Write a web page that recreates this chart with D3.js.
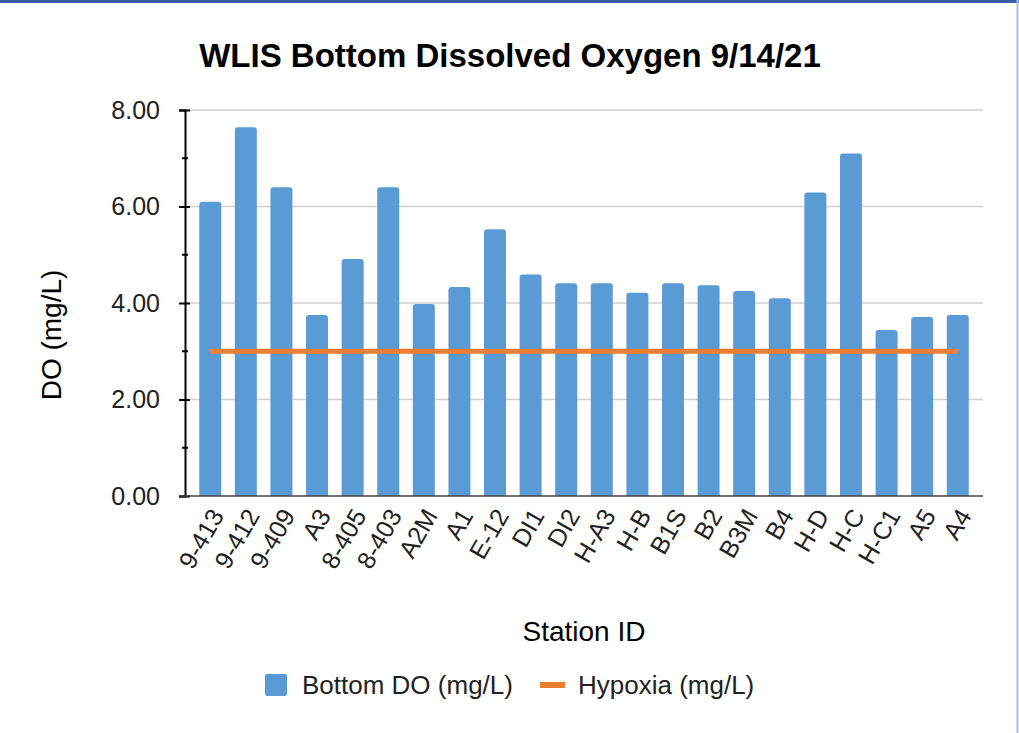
<!DOCTYPE html>
<html>
<head>
<meta charset="utf-8">
<script src="https://cdn.jsdelivr.net/npm/d3@7"></script>
<style>
  html, body { margin: 0; padding: 0; background: #fff; }
  svg { display: block; font-family: "Liberation Sans", Arial, sans-serif; }
</style>
</head>
<body>
<div id="chart"></div>
<script>
// chart data
const stations = ['9-413', '9-412', '9-409', 'A3', '8-405', '8-403', 'A2M', 'A1', 'E-12', 'DI1', 'DI2',
  'H-A3', 'H-B', 'B1S', 'B2', 'B3M', 'B4', 'H-D', 'H-C', 'H-C1', 'A5', 'A4']
const bottomDO = [6.10, 7.64, 6.40, 3.75, 4.91, 6.40, 3.98, 4.33, 5.53, 4.59, 4.41,
  4.41, 4.21, 4.41, 4.37, 4.25, 4.10, 6.29, 7.10, 3.44, 3.71, 3.75]
const hypoxia = stations.map(() => 3.0)
const yTicks = [0, 2, 4, 6, 8]
const yMinorTicks = [1, 3, 5, 7]

const width = 1019
const height = 733
const plot = { left: 185, right: 983, top: 110, bottom: 496 }

const svg = d3.select('#chart')
  .append('svg')
  .attr('width', width)
  .attr('height', height)

// frame edges (top and right, as in the screenshot)
svg.append('line')
  .attr('x1', 0).attr('x2', width)
  .attr('y1', 1.5).attr('y2', 1.5)
  .attr('stroke', '#3b5ea6').attr('stroke-width', 3)
svg.append('line')
  .attr('x1', 1017.5).attr('x2', 1017.5)
  .attr('y1', 0).attr('y2', height)
  .attr('stroke', '#a8bfe3').attr('stroke-width', 2)

const x = d3.scaleBand()
  .domain(stations)
  .range([plot.left, plot.right])
  .paddingInner(0.382)
  .paddingOuter(0.4)

const y = d3.scaleLinear()
  .domain([0, 8])
  .range([plot.bottom, plot.top])

// gridlines
svg.append('g')
  .selectAll('line')
  .data(yTicks.slice(1))
  .join('line')
  .attr('x1', plot.left).attr('x2', plot.right)
  .attr('y1', d => y(d)).attr('y2', d => y(d))
  .attr('stroke', '#d0d0d0')
  .attr('stroke-width', 1.5)

// bars with rounded tops
const r = 3
svg.append('g')
  .selectAll('path')
  .data(stations)
  .join('path')
  .attr('fill', '#5b9bd5')
  .attr('d', (d, i) => {
    const x0 = x(d), w = x.bandwidth(), y0 = y(bottomDO[i]), yb = y(0)
    return `M${x0},${yb}V${y0 + r}Q${x0},${y0} ${x0 + r},${y0}H${x0 + w - r}Q${x0 + w},${y0} ${x0 + w},${y0 + r}V${yb}Z`
  })

// hypoxia line
const line = d3.line()
  .x((d, i) => x(stations[i]) + x.bandwidth() / 2)
  .y(d => y(d))
svg.append('path')
  .datum(hypoxia)
  .attr('d', line)
  .attr('fill', 'none')
  .attr('stroke', '#ed7d31')
  .attr('stroke-width', 5)

// y axis
const yAxis = svg.append('g')
  .attr('transform', `translate(${plot.left},0)`)
  .call(d3.axisLeft(y).tickValues(yTicks).tickFormat(d3.format('.2f')).tickSize(6).tickPadding(19))
yAxis.select('.domain').attr('stroke', '#000').attr('stroke-width', 2)
yAxis.selectAll('.tick line').attr('stroke', '#000').attr('stroke-width', 2).attr('x2', 5).attr('x1', -6)
yAxis.selectAll('.tick text')
  .attr('font-size', 25)
  .attr('fill', '#222')
  .attr('font-family', '"Liberation Sans", Arial, sans-serif')
yAxis.selectAll('.minor')
  .data(yMinorTicks)
  .join('line')
  .attr('class', 'minor')
  .attr('x1', -3).attr('x2', 3)
  .attr('y1', d => y(d)).attr('y2', d => y(d))
  .attr('stroke', '#000').attr('stroke-width', 2)

// x axis
const xAxis = svg.append('g')
  .attr('transform', `translate(0,${plot.bottom})`)
  .call(d3.axisBottom(x).tickSize(0).tickPadding(0))
xAxis.select('.domain')
  .attr('d', `M${plot.left - 6},0H${plot.right}`)
  .attr('stroke', '#444').attr('stroke-width', 1.5)
xAxis.selectAll('.tick text')
  .attr('font-size', 25)
  .attr('fill', '#222')
  .attr('font-family', '"Liberation Sans", Arial, sans-serif')
  .attr('text-anchor', 'end')
  .attr('dy', '0.35em')
  .attr('transform', 'translate(7,15) rotate(-60)')

// title
svg.append('text')
  .attr('x', 510).attr('y', 67)
  .attr('text-anchor', 'middle')
  .attr('font-size', 33)
  .attr('font-weight', 'bold')
  .attr('fill', '#000')
  .text('WLIS Bottom Dissolved Oxygen 9/14/21')

// axis titles
svg.append('text')
  .attr('transform', 'translate(61,335) rotate(-90)')
  .attr('text-anchor', 'middle')
  .attr('font-size', 28)
  .attr('fill', '#000')
  .text('DO (mg/L)')

svg.append('text')
  .attr('x', 584).attr('y', 641)
  .attr('text-anchor', 'middle')
  .attr('font-size', 28)
  .attr('fill', '#000')
  .text('Station ID')

// legend
const legend = svg.append('g')
legend.append('rect')
  .attr('x', 265).attr('y', 674).attr('width', 22).attr('height', 22)
  .attr('rx', 2)
  .attr('fill', '#5b9bd5')
legend.append('text')
  .attr('x', 302).attr('y', 694)
  .attr('font-size', 26)
  .attr('fill', '#222')
  .text('Bottom DO (mg/L)')
legend.append('line')
  .attr('x1', 540).attr('x2', 565)
  .attr('y1', 685).attr('y2', 685)
  .attr('stroke', '#ed7d31').attr('stroke-width', 6)
legend.append('text')
  .attr('x', 578).attr('y', 694)
  .attr('font-size', 26)
  .attr('fill', '#222')
  .text('Hypoxia (mg/L)')
</script>
</body>
</html>
